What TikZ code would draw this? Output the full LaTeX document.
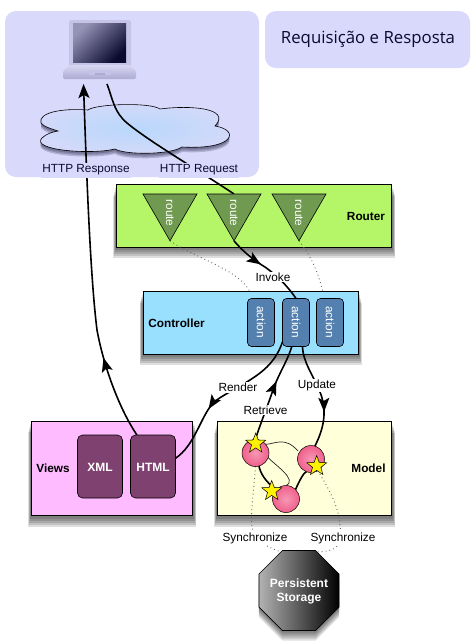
\documentclass[tikz,border=0pt]{standalone}
\usepackage{fontspec}
\setmainfont{Liberation Sans}
\newfontfamily\titlefont{Open Sans}
\usetikzlibrary{shapes.geometric,arrows.meta,decorations.markings,calc}
\pgfdeclarelayer{base}
\pgfdeclarelayer{shades}
\pgfdeclarelayer{panels}
\pgfdeclarelayer{edges}
\pgfsetlayers{base,shades,panels,edges,main}
\definecolor{panelc}{HTML}{D9D9FB}
\definecolor{routerc}{HTML}{B4F668}
\definecolor{routec}{HTML}{6F9A50}
\definecolor{ctrlc}{HTML}{99E0FF}
\definecolor{actionc}{HTML}{5480B0}
\definecolor{viewsc}{HTML}{FFBBFF}
\definecolor{viewc}{HTML}{7F4270}
\definecolor{modelc}{HTML}{FFFFD9}
\definecolor{circc}{HTML}{F0608C}
\definecolor{inkc}{HTML}{0A0A30}
\definecolor{bezelc}{HTML}{C6C4E6}
\definecolor{basetop}{HTML}{D8D6F2}
\definecolor{basebot}{HTML}{ADABD0}
\definecolor{screenhi}{HTML}{9694B6}
\definecolor{cloudin}{HTML}{B8D8FB}
\definecolor{cloudout}{HTML}{D4D9FA}
\newcommand{\cloudoutline}{(41,123) .. controls (38,113) and (60,108) .. (88,110)
    .. controls (95,104) and (150,102) .. (160,109)
    .. controls (190,105) and (232,108) .. (215,126)
    .. controls (240,130) and (235,150) .. (182,147)
    .. controls (170,155) and (125,155) .. (115,149)
    .. controls (90,155) and (30,150) .. (42,138)
    .. controls (46,134) and (52,132) .. (58,131)
    .. controls (52,129) and (44,127) .. (41,123) -- cycle}
\newcommand{\boxshadow}[1]{%
  \foreach \d/\s in {11/3.5,9/3,7/2.5,5/2,3/1.5}{%
    \fill[black,opacity=.13] ($(#1.north west)+(-\s,\d)$) rectangle ($(#1.south east)+(\s,\d)$);}}
\tikzset{
  layerbox/.style={draw=black,line width=.8pt,inner sep=0,outer sep=0},
  panelbox/.style={fill=panelc,rounded corners=11pt,inner sep=0,outer sep=0},
  titletxt/.style={font=\titlefont\fontsize{16.8}{19}\selectfont,text=inkc},
  routetri/.style={regular polygon,regular polygon sides=3,shape border rotate=180,minimum size=62.4pt,
     inner sep=0,outer sep=0,draw=black,line width=.6pt,fill=routec},
  inbox/.style={draw=black,line width=.6pt,rounded corners=4pt,inner sep=0,outer sep=0,minimum width=27pt,minimum height=48pt,fill=actionc},
  viewbox/.style={draw=black,line width=.6pt,rounded corners=5pt,inner sep=0,outer sep=0,minimum width=45pt,minimum height=63pt,fill=viewc},
  whitetxt/.style={text=white,font=\fontsize{11.8}{13}\selectfont,inner sep=0},
  whitebold/.style={text=white,font=\bfseries\fontsize{12}{14}\selectfont,inner sep=0,align=center},
  boldtxt/.style={font=\bfseries\fontsize{11.8}{13}\selectfont,inner sep=0},
  edgelabel/.style={font=\fontsize{11.8}{13}\selectfont,inner sep=1pt,fill=white,text=black},
  panellabel/.style={font=\fontsize{11.8}{13}\selectfont,inner sep=1pt,fill=panelc,text=inkc,minimum height=15pt},
  modelball/.style={circle,draw=black,line width=.5pt,minimum size=27pt,inner sep=0,outer sep=0,inner color=circc!65,outer color=circc},
  starmark/.style={star,star points=5,star point ratio=2.4,minimum size=21pt,inner sep=0,outer sep=0,draw=black,line width=.5pt,fill=yellow},
  octa/.style={regular polygon,regular polygon sides=8,minimum size=86.6pt,inner sep=0,outer sep=0},
  flow/.style={line width=1.6pt,color=black},
  thinlink/.style={line width=.7pt,color=black!85},
  dotlink/.style={dash pattern=on .9pt off 3pt,line width=.9pt,color=black!60},
  headtip/.style={-{Stealth[length=14pt,width=11pt,inset=3pt]}},
  midarrow/.style={postaction={decorate,decoration={markings,mark=at position #1 with {\arrow{Stealth[length=14pt,width=11pt,inset=3pt]}}}}}
}
\begin{document}
\begin{tikzpicture}[x=1pt,y=-1pt]
\useasboundingbox (0,0) rectangle (474,641);
\begin{pgfonlayer}{base}
  \fill[white] (0,0) rectangle (474,641);
  \node[panelbox,minimum width=254pt,minimum height=166pt] (client) at (132,94) {};
  \node[panelbox,minimum width=205pt,minimum height=57pt] (titlebox) at (367.5,39.5) {};
  % cloud
  \foreach \d in {5,3.5,2}{\fill[inkc,opacity=.2,yshift=-\d pt] \cloudoutline;}
  \path[draw=black,line width=.6pt,inner color=cloudin,outer color=cloudout] \cloudoutline;
  % laptop
  \fill[bezelc,rounded corners=1.5pt] (69,20) rectangle (131,66);
  \shade[top color=basetop,bottom color=basebot,rounded corners=1.5pt] (63,71) -- (70,65) -- (130,65) -- (136,71) -- (136,79) -- (63,79) -- cycle;
  \shade[top color=screenhi,bottom color=inkc,shading angle=45] (73,23) rectangle (126,62);
  \fill[bezelc] (89,70) rectangle (111,75);
  \fill[basebot] (95,73) rectangle (105,75);
\end{pgfonlayer}
\begin{pgfonlayer}{panels}
  \node[layerbox,fill=routerc,minimum width=275pt,minimum height=62.5pt] (router) at (254,215.75) {};
  \node[layerbox,fill=ctrlc,minimum width=215pt,minimum height=62.5pt] (controller) at (250.5,322.75) {};
  \node[layerbox,fill=viewsc,minimum width=161pt,minimum height=94.5pt] (views) at (112,468.25) {};
  \node[layerbox,fill=modelc,minimum width=174pt,minimum height=94pt] (model) at (304.5,468.5) {};
\end{pgfonlayer}
\begin{pgfonlayer}{shades}
  \boxshadow{router}
  \boxshadow{controller}
  \boxshadow{views}
  \boxshadow{model}
  \foreach \d in {10,8,6,4,2}{\node[octa,fill=black,opacity=.13] (storageshade\d) at (299,590.5+\d) {};}
\end{pgfonlayer}

\node[titletxt] (titletext) at (368,39.5) {Requisição e Resposta};
\node[minimum width=73pt,minimum height=59pt,inner sep=0,outer sep=0] (laptop) at (99.5,49.5) {};
\coordinate (reqstart) at (107,84);
\coordinate (respend) at (83.5,84);
\coordinate (act1end) at (250,292);
\coordinate (act3end) at (323,293);

\node[routetri] (route1) at (170,209.6) {};
\node[routetri] (route2) at (234,209.6) {};
\node[routetri] (route3) at (299,209.6) {};
\node[whitetxt,rotate=-90] (rt1) at (170,213) {route};
\node[whitetxt,rotate=-90] (rt2) at (234,213) {route};
\node[whitetxt,rotate=-90] (rt3) at (299,213) {route};
\node[boldtxt] (routerlabel) at (366,216.5) {Router};

\node[inbox] (action1) at (261,322.5) {};
\node[inbox] (action2) at (296,322.5) {};
\node[inbox] (action3) at (330,322.5) {};
\node[whitetxt,rotate=-90] (at1) at (261,322) {action};
\node[whitetxt,rotate=-90] (at2) at (296,322) {action};
\node[whitetxt,rotate=-90] (at3) at (330,322) {action};
\node[boldtxt] (ctrllabel) at (176.5,323.5) {Controller};

\node[viewbox] (xml) at (100,466.5) {};
\node[viewbox] (html) at (153,466.5) {};
\node[whitebold] (xmltxt) at (100,467.5) {XML};
\node[whitebold] (htmltxt) at (153,467.5) {HTML};
\node[boldtxt] (viewslabel) at (53,468.5) {Views};

\node[modelball] (ball1) at (255.5,453) {};
\node[modelball] (ball2) at (311,459) {};
\node[modelball] (ball3) at (286,499) {};
\node[starmark] (star1) at (255.7,443.5) {};
\node[starmark] (star2) at (316.7,466) {};
\node[starmark] (star3) at (271.7,491) {};
\node[boldtxt] (modellabel) at (368.5,468.5) {Model};

\node[octa,draw=black,line width=.6pt,left color=black!30,right color=black] (storage) at (299,590.5) {};
\node[whitebold] (storagetxt) at (299,591) {Persistent\\Storage};

\node[panellabel] (resp) at (86,170) {HTTP Response};
\node[panellabel] (req) at (199,170) {HTTP Request};
\node[edgelabel] (invoke) at (273,277) {Invoke};
\node[edgelabel] (render) at (238,387.5) {Render};
\node[edgelabel] (retrieve) at (265.5,410) {Retrieve};
\node[edgelabel] (update) at (317,385) {Update};
\node[edgelabel] (sync1) at (255,538) {Synchronize};
\node[edgelabel] (sync2) at (343,538) {Synchronize};

\begin{pgfonlayer}{edges}
  \draw[flow,headtip,midarrow=.235] (html.117) .. controls (120,410) and (104,368) .. (97,330)
     .. controls (92,290) and (88,220) .. (respend);
  \draw[flow] (reqstart) .. controls (113,100) and (114,112) .. (127,123)
     .. controls (150,142) and (195,168) .. (route2.north);
  \draw[flow,midarrow=.42] (route2.south) .. controls (240,248) and (250,258) .. (265,267)
     .. controls (275,274) and (287,285) .. (action2.north);
  \draw[flow,midarrow=.63] (action2.-125) .. controls (277,358) and (268,368) .. (253,378)
     .. controls (235,390) and (222,395) .. (213,403)
     .. controls (200,418) and (195,445) .. (html.20);
  \draw[flow,midarrow=.62] (ball1.north) .. controls (258,430) and (268,405) .. (273,390)
     .. controls (278,375) and (288,360) .. (action2.-100);
  \draw[flow,midarrow=.66] (action2.-75) .. controls (303,362) and (313,375) .. (320,392)
     .. controls (328,412) and (323,430) .. (ball2.73);
  \draw[flow] (ball1.-75) .. controls (260,472) and (265,482) .. (ball3.north west);
  \draw[flow] (ball2.-110) .. controls (303,473) and (298,484) .. (ball3.north east);
  \draw[thinlink] (ball1.40) .. controls (275,444) and (285,436) .. (298,451);
  \draw[thinlink] (ball1.-20) .. controls (275,465) and (298,480) .. (ball3.north);
  \draw[dotlink] (route1.south) .. controls (195,258) and (240,270) .. (act1end);
  \draw[dotlink] (route3.south) .. controls (310,255) and (318,270) .. (act3end);
  \draw[dotlink] (ball1.-90) .. controls (254,490) and (250,515) .. (252,527) .. controls (255,540) and (262,545) .. (storage.115);
  \draw[dotlink] (ball2.-60) .. controls (330,490) and (340,510) .. (340,527) .. controls (345,545) and (335,552) .. (storage.65);
\end{pgfonlayer}
\end{tikzpicture}
\end{document}
